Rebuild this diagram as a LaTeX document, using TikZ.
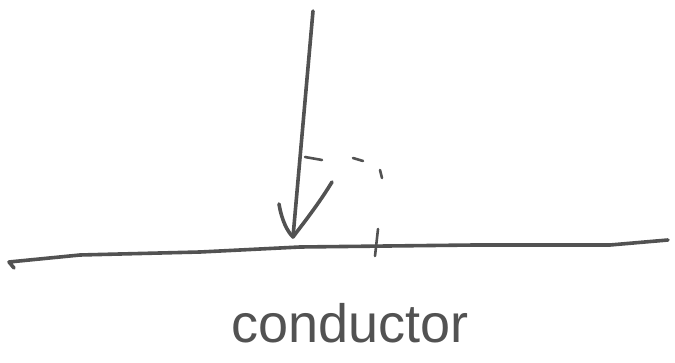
\documentclass[tikz,border=0pt]{standalone}
\usepackage{fontspec}
\setmainfont{Liberation Sans}
\begin{document}
\begin{tikzpicture}[x=1pt,y=-1pt,
  ink/.style={draw=black!68,line width=3.6pt,line cap=round,line join=round},
  thin ink/.style={draw=black!68,line width=2.6pt,line cap=round}]
\useasboundingbox (0,0) rectangle (675,363);
% conductor surface
\draw[ink] (14,268) -- (9,262) -- (80,255) -- (200,252) -- (300,247) -- (475,245) -- (610,245) -- (668,240);
% incident arrow
\coordinate (top) at (313,11);
\coordinate (tip) at (293,237);
\draw[ink] (top) -- (tip);
\draw[ink] (279,204) .. controls (282,222) and (288,232) .. (tip);
\draw[ink] (332,182) .. controls (318,205) and (302,225) .. (tip);
% dashed normal marker
\draw[thin ink] (305,157) -- (322,160);
\draw[thin ink] (353,158) -- (363,161);
\draw[thin ink] (380,170) -- (382,178);
\draw[thin ink] (378,229) -- (375,256);
% label
\node[text=black!68,font=\fontsize{54}{60}\selectfont,anchor=base] (lbl) at (350,343) {conductor};
\end{tikzpicture}
\end{document}
